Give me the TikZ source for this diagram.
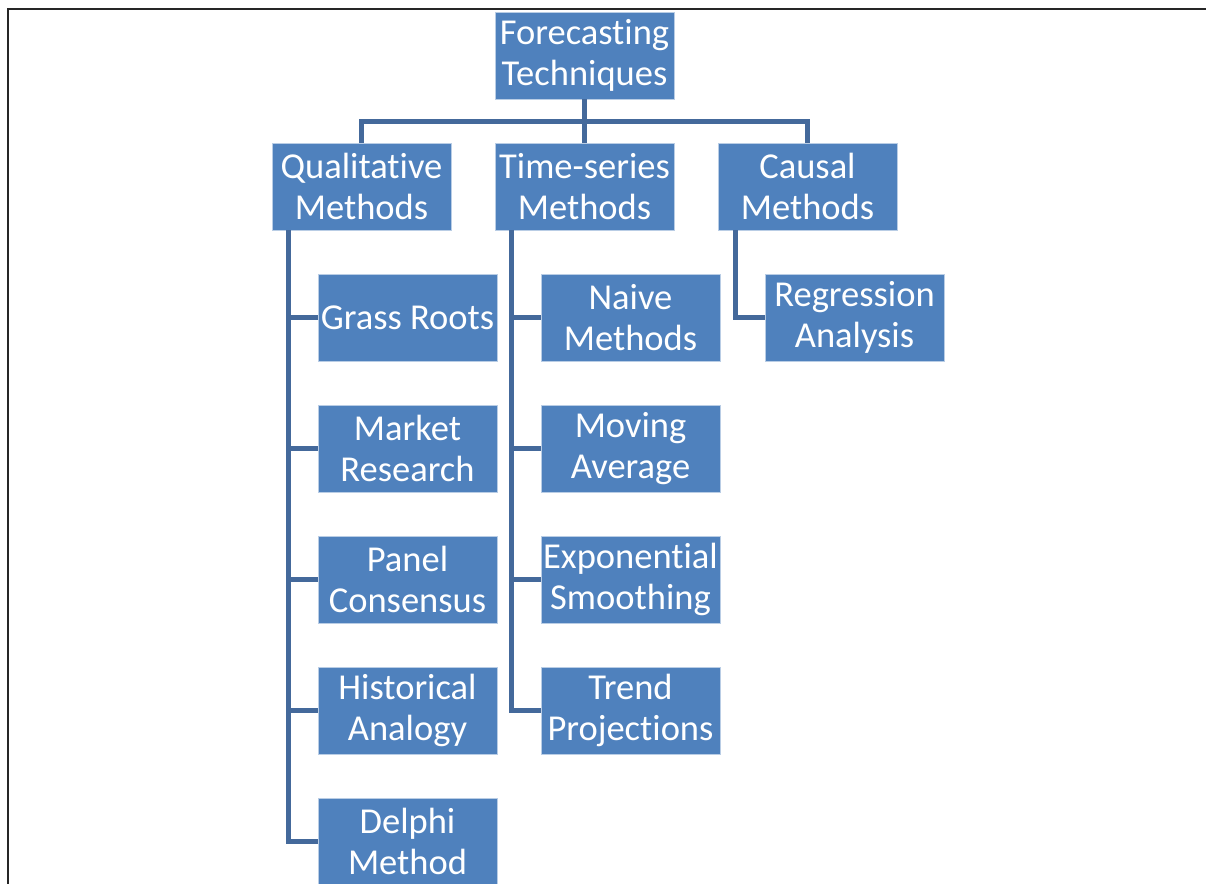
\documentclass[tikz,border=0pt]{standalone}
\usepackage{fontspec}
\setmainfont[Ligatures={NoCommon}]{Carlito}
\definecolor{boxblue}{HTML}{4F81BD}
\definecolor{boxedge}{HTML}{B9CDE5}
\definecolor{linkblue}{HTML}{44699B}
\begin{document}
\begin{tikzpicture}[x=1pt,y=-1pt,
  box/.style={rectangle,fill=boxblue,draw=boxedge,line width=0.8pt,
    minimum width=179pt,minimum height=87pt,inner sep=0pt,align=center,
    text=white,font=\fontsize{36.5}{41}\selectfont},
  link/.style={draw=linkblue,line width=5pt}]
\useasboundingbox (0,0) rectangle (1206,883);
\draw[line width=2pt,black!85] (8,884) -- (8,9) -- (1207,9);
% root and level 1
\node[box] (root) at (584.5,55.5) {Forecasting\\Techniques};
\node[box] (qual) at (361.5,186.5) {Qualitative\\Methods};
\node[box] (ts) at (584.5,186.5) {Time-series\\Methods};
\node[box] (caus) at (807.5,186.5) {Causal\\Methods};
% qualitative children
\node[box] (q1) at (407.5,317.5) {Grass Roots};
\node[box] (q2) at (407.5,448.5) {Market\\Research};
\node[box] (q3) at (407.5,579.5) {Panel\\Consensus};
\node[box] (q4) at (407.5,710.5) {Historical\\Analogy};
\node[box] (q5) at (407.5,841.5) {Delphi\\Method};
% time-series children
\node[box] (t1) at (630.5,317.5) {Naive\\Methods};
\node[box] (t2) at (630.5,448.5) {Moving\\Average};
\node[box] (t3) at (630.5,579.5) {Exponential\\Smoothing};
\node[box] (t4) at (630.5,710.5) {Trend\\Projections};
% causal child
\node[box] (c1) at (854.5,317.5) {Regression\\Analysis};
% connectors from root
\coordinate (bar) at (0,121);
\draw[link] (root.south) -- (root.south |- bar);
\draw[link] (qual.north) -- (qual.north |- bar) -- (caus.north |- bar) -- (caus.north);
\draw[link] (ts.north) -- (ts.north |- bar);
% qualitative branch
\coordinate (qx) at (288,0);
\draw[link] (qual.south -| qx) -- (qx |- q5.west) -- (q5.west);
\foreach \n in {q1,q2,q3,q4} \draw[link] (qx |- \n.west) -- (\n.west);
% time-series branch
\coordinate (tx) at (511,0);
\draw[link] (ts.south -| tx) -- (tx |- t4.west) -- (t4.west);
\foreach \n in {t1,t2,t3} \draw[link] (tx |- \n.west) -- (\n.west);
% causal branch
\coordinate (cx) at (735,0);
\draw[link] (caus.south -| cx) -- (cx |- c1.west) -- (c1.west);
\end{tikzpicture}
\end{document}
